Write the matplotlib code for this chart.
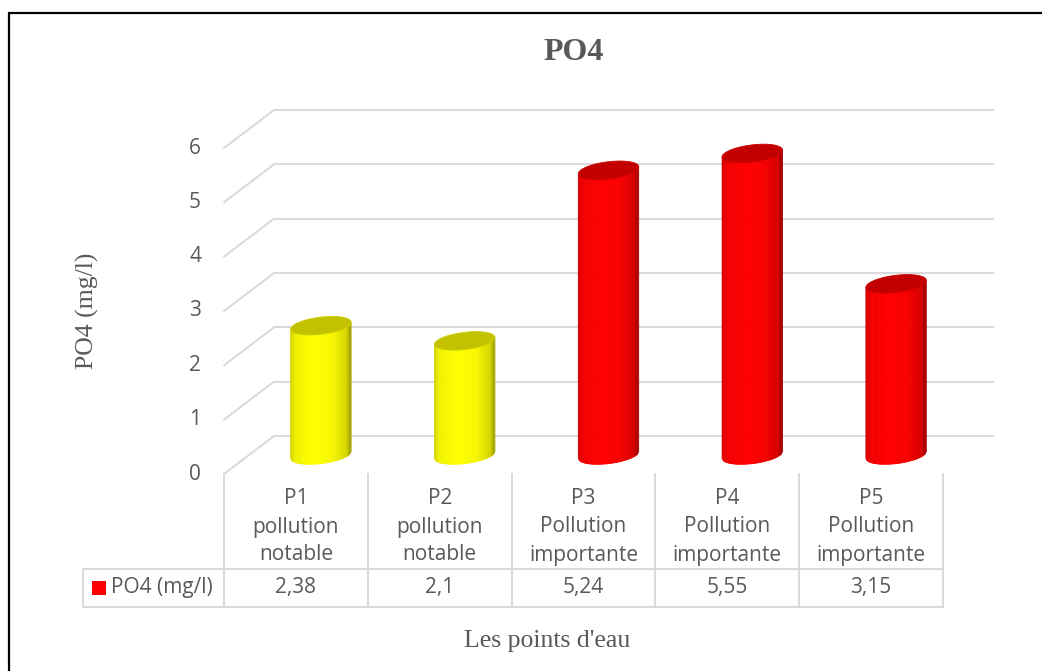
import numpy as np
import matplotlib
matplotlib.use('Agg')
import matplotlib.pyplot as plt
import matplotlib.transforms as mtransforms
from matplotlib.collections import PolyCollection
from matplotlib.patches import Polygon, Rectangle, ConnectionPatch

# data
stations = ['P1', 'P2', 'P3', 'P4', 'P5']
levels = ['pollution notable', 'pollution notable', 'Pollution importante',
          'Pollution importante', 'Pollution importante']
po4 = [2.38, 2.1, 5.24, 5.55, 3.15]
po4_text = ['2,38', '2,1', '5,24', '5,55', '3,15']
yticks = [0, 1, 2, 3, 4, 5, 6]

W, H = 1042, 671
GRID = '#D9D9D9'
TXT = '#595959'
SANS = 'Open Sans'
SERIF = 'Liberation Serif'
FS = 15
level_color = {'notable': (1.0, 1.0, 0.0), 'importante': (1.0, 0.0, 0.0)}

fig = plt.figure(figsize=(W / 100, H / 100), dpi=100)
ax = fig.add_axes([224 / W, 1 - 474 / H, (943 - 224) / W, (474 - 148) / H])
ax.set_xlim(-0.5, 4.5)
ax.set_ylim(0, 6)
ax.axis('off')

# pixel coords measured from the top-left of the figure
pix = mtransforms.Affine2D().scale(1 / W, -1 / H).translate(0, 1) + fig.transFigure
x_data_y_pix = mtransforms.blended_transform_factory(ax.transData, pix)
x_pix_y_data = mtransforms.blended_transform_factory(pix, ax.transData)


def depth(f):
    # shift for the fake 3D depth (50px right, 38px up at the back wall)
    return ax.transData + mtransforms.ScaledTranslation(f * 0.50, f * 0.38, fig.dpi_scale_trans)


# gridlines on the back wall + side diagonals
for v in yticks:
    ax.plot([-0.5, 4.5], [v, v], transform=depth(1), color=GRID, lw=1.4, clip_on=False, zorder=1)
    con = ConnectionPatch((-0.5, v), (-0.5, v), coordsA=ax.transData, coordsB=depth(1),
                          color=GRID, lw=1.4, zorder=1)
    fig.add_artist(con)
    ax.text(201, v, str(v), transform=x_pix_y_data, ha='right', va='center',
            fontsize=FS, family=SANS, color=TXT)

# cylinders
a = 0.21      # half width (data x)
b = 0.158     # half height of ellipse (data y)
s = 0.064     # tilt of the ellipse
nstrip = 48
ub = np.linspace(-1, 1, nstrip + 1)
shade_u = [-1, -0.85, -0.3, 0.4, 0.85, 1]
shade_v = [0.82, 0.94, 1.0, 0.97, 0.84, 0.62]
tr = depth(0.5)
for i, (v, lev) in enumerate(zip(po4, levels)):
    base = np.array(level_color[lev.split()[1]])
    polys, cols = [], []
    for k in range(nstrip):
        u0, u1 = ub[k], ub[k + 1]
        yb0 = -b * np.sqrt(max(0, 1 - u0 ** 2)) + s * u0
        yb1 = -b * np.sqrt(max(0, 1 - u1 ** 2)) + s * u1
        polys.append([(i + a * u0, yb0), (i + a * u1, yb1),
                      (i + a * u1, v + s * u1), (i + a * u0, v + s * u0)])
        f = np.interp((u0 + u1) / 2, shade_u, shade_v)
        cols.append(tuple(base * f))
    pc = PolyCollection(polys, facecolors=cols, edgecolors=cols, linewidths=0.6,
                        transform=tr, clip_on=False, zorder=3)
    ax.add_collection(pc)
    t = np.linspace(0, 2 * np.pi, 100)
    top = np.column_stack([i + a * np.cos(t), v + b * np.sin(t) + s * np.cos(t)])
    ax.add_patch(Polygon(top, closed=True, transform=tr, facecolor=tuple(base * 0.76),
                         edgecolor=tuple(base * 0.8), lw=0.6, clip_on=False, zorder=4))

# data table under the chart
for xb in np.arange(-0.5, 5, 1):
    ax.plot([xb, xb], [474, 607], transform=x_data_y_pix, color=GRID, lw=1.4, clip_on=False)
for yy in (569, 607):
    ax.plot([83, 943], [yy, yy], transform=pix, color=GRID, lw=1.4, clip_on=False)
ax.plot([83, 83], [569, 607], transform=pix, color=GRID, lw=1.4, clip_on=False)

for i, (st, lev, txt) in enumerate(zip(stations, levels, po4_text)):
    lines = [st] + lev.split()
    for j, line in enumerate(lines):
        ax.text(i, 499 + 28 * j, line, transform=x_data_y_pix, ha='center', va='center',
                fontsize=FS, family=SANS, color=TXT)
    ax.text(i, 588, txt, transform=x_data_y_pix, ha='center', va='center',
            fontsize=FS, family=SANS, color=TXT)

ax.add_patch(Rectangle((92, 595), 14, -14, transform=pix, facecolor='#FF0000',
                       edgecolor='none', clip_on=False))
ax.text(111, 588, 'PO4 (mg/l)', transform=pix, ha='left', va='center',
        fontsize=FS, family=SANS, color=TXT)

# titles
fig.text(574 / W, 1 - 53 / H, 'PO4', ha='center', va='center', fontsize=23,
         fontweight='bold', family=SERIF, color=TXT)
fig.text(87 / W, 1 - 311 / H, 'PO4 (mg/l)', ha='center', va='center', rotation=90,
         fontsize=18.5, family=SERIF, color=TXT)
fig.text(547 / W, 1 - 641 / H, "Les points d'eau", ha='center', va='center',
         fontsize=18.5, family=SERIF, color=TXT)

# frame of the chart area
ax.plot([9, 9, W], [H, 13, 13], transform=pix, color='black', lw=1.6, clip_on=False,
        solid_joinstyle='miter')

fig.savefig('out.png', dpi=100)
